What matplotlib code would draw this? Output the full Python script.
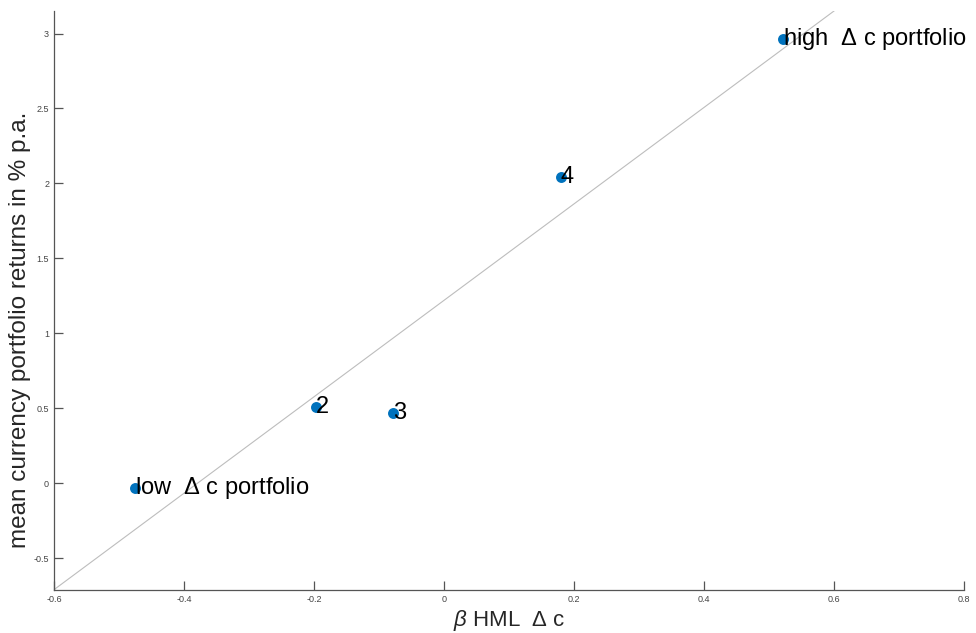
import numpy as np
from matplotlib import pyplot as plt

# portfolio betas and mean returns
beta_hml = [-0.475, -0.197, -0.078, 0.180, 0.521]
mean_ret = [-0.033, 0.509, 0.469, 2.042, 2.962]
point_labels = ['low  $\\Delta$ c portfolio', '2', '3', '4', 'high  $\\Delta$ c portfolio']

# fitted line end points
fit_x = [-0.6, 0.6]
fit_y = [-0.71, 3.15]

xticks = [-0.6, -0.4, -0.2, 0, 0.2, 0.4, 0.6, 0.8]
xticklabels = ['-0.6', '-0.4', '-0.2', '0', '0.2', '0.4', '0.6', '0.8']
yticks = [-0.5, 0, 0.5, 1, 1.5, 2, 2.5, 3]
yticklabels = ['-0.5', '0', '0.5', '1', '1.5', '2', '2.5', '3']

plt.rcParams['font.family'] = ['Liberation Sans', 'DejaVu Sans']
plt.rcParams['mathtext.fontset'] = 'custom'
plt.rcParams['mathtext.rm'] = 'Liberation Sans'
plt.rcParams['mathtext.it'] = 'Liberation Sans:italic'

fig = plt.figure(figsize=(9.76, 6.33), dpi=100)
ax = fig.add_axes([0.0553, 0.0684, 0.9324, 0.9142])

ax.plot(fit_x, fit_y, color='#bdbdbd', linewidth=0.8, zorder=1)
ax.scatter(beta_hml, mean_ret, s=62, color='#0072BD', zorder=2, linewidths=0)
for x, y, lab in zip(beta_hml, mean_ret, point_labels):
    ax.text(x, y, lab, ha='left', va='center', fontsize=17, color='black', zorder=3)

ax.set_xlim(-0.6, 0.8)
ax.set_ylim(-0.71, 3.15)
ax.set_xticks(xticks)
ax.set_xticklabels(xticklabels)
ax.set_yticks(yticks)
ax.set_yticklabels(yticklabels)
ax.tick_params(direction='in', length=6.5, width=0.9, color='#555555',
               labelsize=6.5, labelcolor='#444444', pad=3.5)

for side in ['top', 'right']:
    ax.spines[side].set_visible(False)
for side in ['left', 'bottom']:
    ax.spines[side].set_color('#555555')
    ax.spines[side].set_linewidth(0.9)

ax.set_xlabel('$\\mathit{\\beta}$ HML  $\\Delta$ c', fontsize=16, color='#262626')
ax.set_ylabel('mean currency portfolio returns in % p.a.', fontsize=17.5, color='#262626')
ax.xaxis.set_label_coords(0.5, -0.032)
ax.yaxis.set_label_coords(-0.025, 0.449)

plt.savefig('out.png', dpi=100)
plt.close()
